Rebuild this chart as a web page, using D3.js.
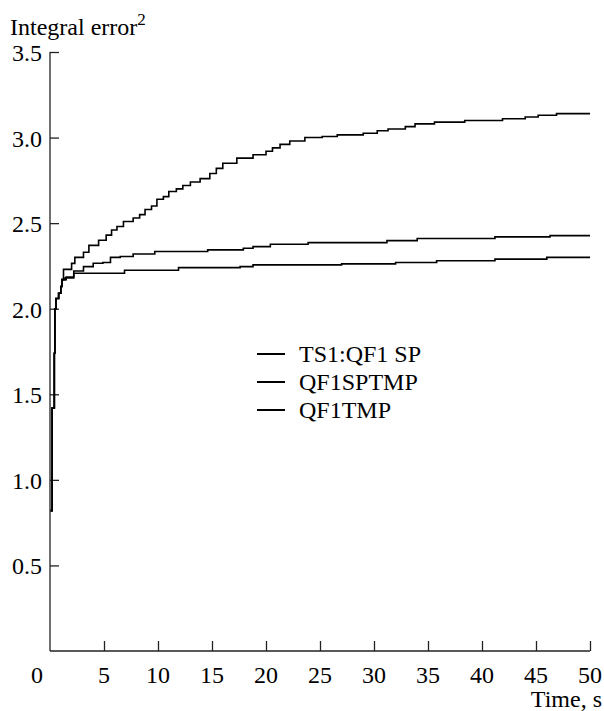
<!DOCTYPE html>
<html>
<head>
<meta charset="utf-8">
<script src="https://cdn.jsdelivr.net/npm/d3@7"></script>
<style>
  body { margin: 0; background: #fff; }
</style>
</head>
<body>
<div id="chart"></div>
<script>
WIDTH = 604;
HEIGHT = 711;

// curve data, [time s, integral error^2]
var ts1qf1sp = [
  [0.05, 0.82], [0.2, 1.42], [0.4, 1.74], [0.45, 2.0], [0.55, 2.06], [0.8, 2.09],
  [1.0, 2.13], [1.1, 2.17], [1.25, 2.23], [2.0, 2.265], [2.3, 2.3], [3.1, 2.33],
  [3.6, 2.37], [4.5, 2.4], [5.2, 2.43], [5.7, 2.46], [6.2, 2.48], [6.8, 2.51],
  [7.7, 2.53], [8.3, 2.55], [8.8, 2.58], [9.4, 2.6], [9.9, 2.64], [10.5, 2.655],
  [11, 2.685], [11.7, 2.7], [12.3, 2.72], [13, 2.74], [13.9, 2.76], [14.8, 2.79],
  [15.4, 2.82], [16, 2.85], [17.3, 2.88], [18.8, 2.9], [20, 2.92], [20.6, 2.94],
  [21.3, 2.96], [22.2, 2.98], [23.6, 3.0], [25.2, 3.006], [26.6, 3.016], [29, 3.025],
  [30.3, 3.04], [31.3, 3.05], [32.9, 3.064], [33.8, 3.08], [35.6, 3.09], [38.4, 3.1],
  [41.9, 3.11], [44, 3.12], [45.2, 3.13], [46.9, 3.14], [50, 3.14]
];
var qf1sptmp = [
  [0.05, 0.82], [0.2, 1.42], [0.4, 1.74], [0.45, 2.0], [0.55, 2.06], [0.8, 2.09],
  [1.0, 2.13], [1.1, 2.17], [1.4, 2.18], [2.2, 2.22], [3.1, 2.246], [4.0, 2.266],
  [4.9, 2.27], [5.6, 2.3], [6.5, 2.305], [7.7, 2.32], [9.7, 2.334], [14.6, 2.344],
  [17.9, 2.353], [18.8, 2.363], [20.4, 2.377], [23.9, 2.386], [31.2, 2.398],
  [34, 2.41], [41.2, 2.42], [46.3, 2.427], [50, 2.427]
];
var qf1tmp = [
  [0.05, 0.82], [0.2, 1.42], [0.4, 1.74], [0.45, 2.0], [0.55, 2.06], [0.8, 2.09],
  [1.0, 2.13], [1.1, 2.17], [1.5, 2.185], [2.2, 2.207], [6.9, 2.225], [11.9, 2.24],
  [17.6, 2.246], [18.8, 2.256], [27, 2.262], [32, 2.27], [35.8, 2.28], [41.2, 2.29],
  [46, 2.3], [50, 2.3]
];

var seriesNames = ["TS1:QF1 SP", "QF1SPTMP", "QF1TMP"];
var seriesData = [ts1qf1sp, qf1sptmp, qf1tmp];

var xTicks = [0, 5, 10, 15, 20, 25, 30, 35, 40, 45, 50];
var yTicks = [0.5, 1.0, 1.5, 2.0, 2.5, 3.0, 3.5];

var margin = { top: 52, right: 14, bottom: 60, left: 50 };
var FONT = "'Liberation Serif', 'Times New Roman', Times, serif";

var svg = d3
  .select("#chart")
  .append("svg")
  .attr("width", WIDTH)
  .attr("height", HEIGHT)
  .attr("font-family", FONT);

const x = d3
  .scaleLinear()
  .domain([0, 50])
  .range([margin.left, WIDTH - margin.right]);
const y = d3
  .scaleLinear()
  .domain([0, 3.5])
  .range([HEIGHT - margin.bottom, margin.top]);

var axis_g = svg.append("g");
var line_g = svg.append("g");

// axes: ticks point inward
axis_g
  .append("g")
  .attr("transform", "translate(0," + y(0) + ")")
  .call(
    d3.axisTop(x)
      .tickValues(xTicks.slice(1))
      .tickSize(10)
      .tickFormat("")
  );
axis_g
  .append("g")
  .attr("transform", "translate(" + x(0) + ",0)")
  .call(
    d3.axisRight(y)
      .tickValues(yTicks)
      .tickSize(9)
      .tickFormat("")
  );
axis_g.selectAll(".domain").remove();
axis_g.selectAll("line").attr("stroke", "#222").attr("stroke-width", 1.3);

axis_g
  .append("line")
  .attr("x1", x(0)).attr("x2", x(50))
  .attr("y1", y(0)).attr("y2", y(0))
  .attr("stroke", "#222").attr("stroke-width", 1.3);
axis_g
  .append("line")
  .attr("x1", x(0)).attr("x2", x(0))
  .attr("y1", y(0)).attr("y2", y(3.5))
  .attr("stroke", "#222").attr("stroke-width", 1.3);

// tick labels
svg
  .append("g")
  .selectAll("text")
  .data(xTicks)
  .enter()
  .append("text")
  .attr("x", d => (d === 0 ? x(d) - 13 : x(d)))
  .attr("y", y(0) + 32)
  .attr("text-anchor", "middle")
  .attr("font-family", FONT)
  .style("font-size", "24px")
  .text(d => d);

svg
  .append("g")
  .selectAll("text")
  .data(yTicks)
  .enter()
  .append("text")
  .attr("x", x(0) - 8)
  .attr("y", d => y(d) + 9)
  .attr("text-anchor", "end")
  .attr("font-family", FONT)
  .style("font-size", "24px")
  .text(d => d.toFixed(1));

// axis titles
var yTitle = svg
  .append("text")
  .attr("x", 10)
  .attr("y", 35)
  .attr("font-family", FONT)
  .style("font-size", "24px")
  .text("Integral error");
yTitle
  .append("tspan")
  .attr("dy", -10)
  .style("font-size", "17px")
  .text("2");

svg
  .append("text")
  .attr("x", 602)
  .attr("y", 707)
  .attr("text-anchor", "end")
  .attr("font-family", FONT)
  .style("font-size", "24px")
  .text("Time, s");

// curves
var line = d3
  .line()
  .x(d => x(d[0]))
  .y(d => y(d[1]))
  .curve(d3.curveStepAfter);

line_g
  .selectAll("path")
  .data(seriesData)
  .enter()
  .append("path")
  .attr("d", line)
  .attr("fill", "none")
  .attr("stroke", "#000")
  .attr("stroke-width", 1.6);

// legend
var legend = svg
  .append("g")
  .selectAll("g")
  .data(seriesNames)
  .enter()
  .append("g")
  .attr("transform", (d, i) => "translate(257," + (354 + i * 28) + ")");
legend
  .append("line")
  .attr("x1", 0).attr("x2", 28)
  .attr("stroke", "#000").attr("stroke-width", 2);
legend
  .append("text")
  .attr("x", 42)
  .attr("y", 8)
  .attr("font-family", FONT)
  .style("font-size", "24px")
  .text(d => d);
</script>
</body>
</html>
